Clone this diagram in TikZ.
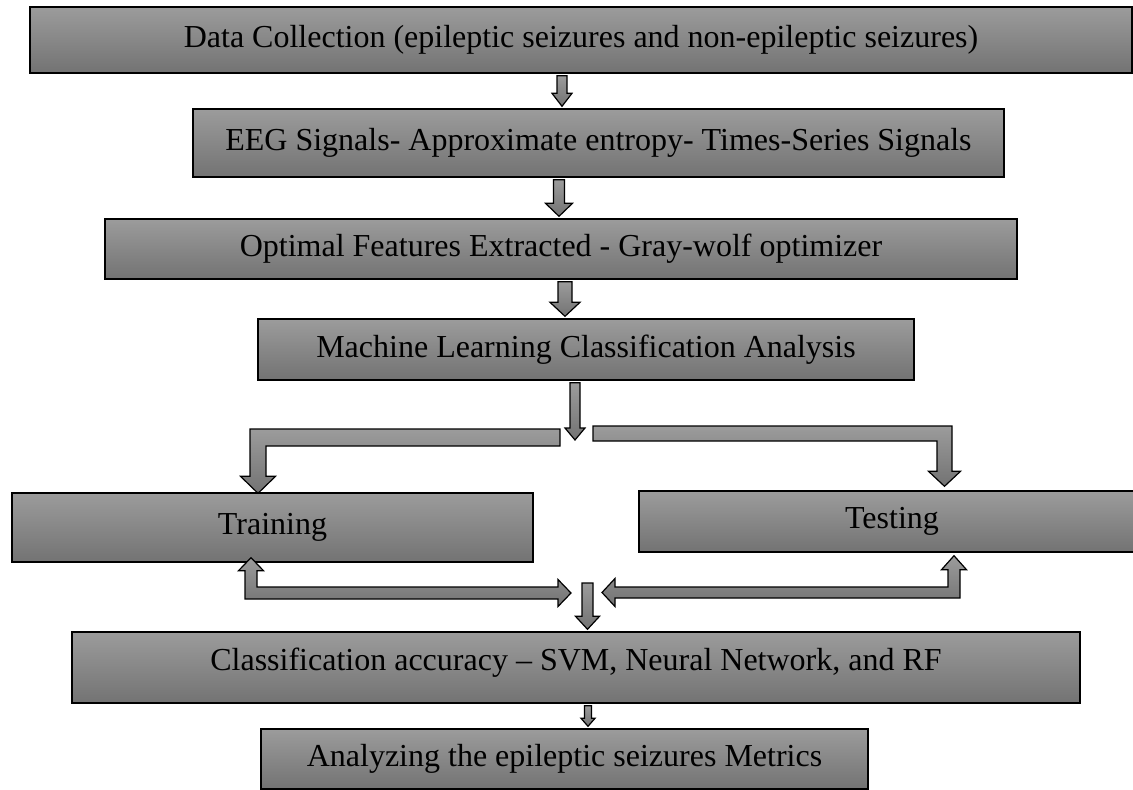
\documentclass[tikz,border=0pt]{standalone}
\usepackage{fontspec}
\setmainfont{Liberation Serif}
\usetikzlibrary{calc}

\tikzset{
  box/.style={draw=black, line width=1.4pt, shading=axis, top color=gray!78, bottom color=black!55,
    inner sep=0pt, font=\fontsize{32}{37}\selectfont},
  blockarrow/.style={draw=black, line width=1.2pt, line join=miter, shading=axis,
    top color=gray!78, bottom color=black!55},
}

% straight block arrow: x, from, to, half shaft, half head, head length
\newcommand{\downblock}[6]{%
  \path[blockarrow] let \p1=(#2), \p2=(#3), \p3=(#1,0) in
    (\x3-#4pt,\y1-2pt) -- (\x3+#4pt,\y1-2pt) -- (\x3+#4pt,\y2+#6pt+2pt) -- (\x3+#5pt,\y2+#6pt+2pt)
    -- (\x3,\y2+2pt) -- (\x3-#5pt,\y2+#6pt+2pt) -- (\x3-#4pt,\y2+#6pt+2pt) -- cycle;}

\begin{document}
\begin{tikzpicture}[x=1pt, y=-1pt]
    \useasboundingbox (0,0) rectangle (1133,790);

    % Process boxes
    \node[box, minimum width=1102, minimum height=66] (dc) at (581,40)
        {Data Collection (epileptic seizures and non-epileptic seizures)};
    \node[box, minimum width=811, minimum height=68] (eeg) at (598.5,143)
        {EEG Signals- Approximate entropy- Times-Series Signals};
    \node[box, minimum width=912, minimum height=60] (opt) at (561,249)
        {Optimal Features Extracted - Gray-wolf optimizer};
    \node[box, minimum width=656, minimum height=61] (ml) at (586,349.5)
        {Machine Learning Classification Analysis};
    \node[box, minimum width=521, minimum height=69] (train) at (272.5,527.5) {Training};
    \node[box, minimum width=506, minimum height=61] (test) at (892,521.5) {Testing};
    \node[box, minimum width=1008, minimum height=71, text depth=16pt] (cls) at (576,667.5)
        {Classification accuracy – SVM, Neural Network, and RF};
    \node[box, minimum width=607, minimum height=60] (ana) at (564.5,759)
        {Analyzing the epileptic seizures Metrics};

    % Split and merge points
    \coordinate (fork) at (575,442);
    \coordinate (forkL) at (258,437.5);
    \coordinate (forkR) at (944.5,433.5);
    \coordinate (merge) at (587.5,581);
    \coordinate (cornerL) at (251,593);
    \coordinate (cornerR) at (954,592.5);

    % Straight arrows
    \downblock{562}{dc.south}{eeg.north}{5}{10}{13}
    \downblock{559}{eeg.south}{opt.north}{5.5}{13.5}{13}
    \downblock{565}{opt.south}{ml.north}{7}{15}{14}
    \downblock{575}{ml.south}{fork}{5}{10}{12}
    \downblock{587.5}{merge}{cls.north}{5.5}{12}{13}
    \downblock{588}{cls.south}{ana.north}{3.5}{7}{8}

    % Split to training
    \path[blockarrow] let \p1=(forkL), \p2=(train.north), \p3=(fork) in
        (\x3-15pt,\y1+8.5pt) -- (\x1-8pt,\y1+8.5pt) -- (\x1-8pt,\y2+16pt) -- (\x1-17.5pt,\y2+16pt)
        -- (\x1,\y2-1pt) -- (\x1+17.5pt,\y2+16pt) -- (\x1+8pt,\y2+16pt) -- (\x1+8pt,\y1-8.5pt)
        -- (\x3-15pt,\y1-8.5pt) -- cycle;

    % Split to testing
    \path[blockarrow] let \p1=(forkR), \p2=(test.north), \p3=(fork) in
        (\x3+18pt,\y1+7.5pt) -- (\x1+7.5pt,\y1+7.5pt) -- (\x1+7.5pt,\y2+19pt) -- (\x1+16pt,\y2+19pt)
        -- (\x1,\y2+4pt) -- (\x1-16pt,\y2+19pt) -- (\x1-7.5pt,\y2+19pt) -- (\x1-7.5pt,\y1-7.5pt)
        -- (\x3+18pt,\y1-7.5pt) -- cycle;

    % Training <-> merge
    \path[blockarrow] let \p1=(cornerL), \p2=(train.south), \p3=(merge) in
        (\x1,\y2+5pt) -- (\x1+12.5pt,\y2-8pt) -- (\x1+6pt,\y2-8pt) -- (\x1+6pt,\y1+6pt)
        -- (\x3-29.5pt,\y1+6pt) -- (\x3-29.5pt,\y1+13.5pt) -- (\x3-16.5pt,\y1)
        -- (\x3-29.5pt,\y1-13.5pt) -- (\x3-29.5pt,\y1-6pt) -- (\x1-6pt,\y1-6pt)
        -- (\x1-6pt,\y2-8pt) -- (\x1-12.5pt,\y2-8pt) -- cycle;

    % Testing <-> merge
    \path[blockarrow] let \p1=(cornerR), \p2=(test.south), \p3=(merge) in
        (\x1,\y2-3pt) -- (\x1+12.5pt,\y2-17pt) -- (\x1+6pt,\y2-17pt) -- (\x1+6pt,\y1-5.5pt)
        -- (\x3+27.5pt,\y1-5.5pt) -- (\x3+27.5pt,\y1-14pt) -- (\x3+14.5pt,\y1)
        -- (\x3+27.5pt,\y1+14pt) -- (\x3+27.5pt,\y1+5.5pt) -- (\x1-6pt,\y1+5.5pt)
        -- (\x1-6pt,\y2-17pt) -- (\x1-12.5pt,\y2-17pt) -- cycle;
\end{tikzpicture}
\end{document}
